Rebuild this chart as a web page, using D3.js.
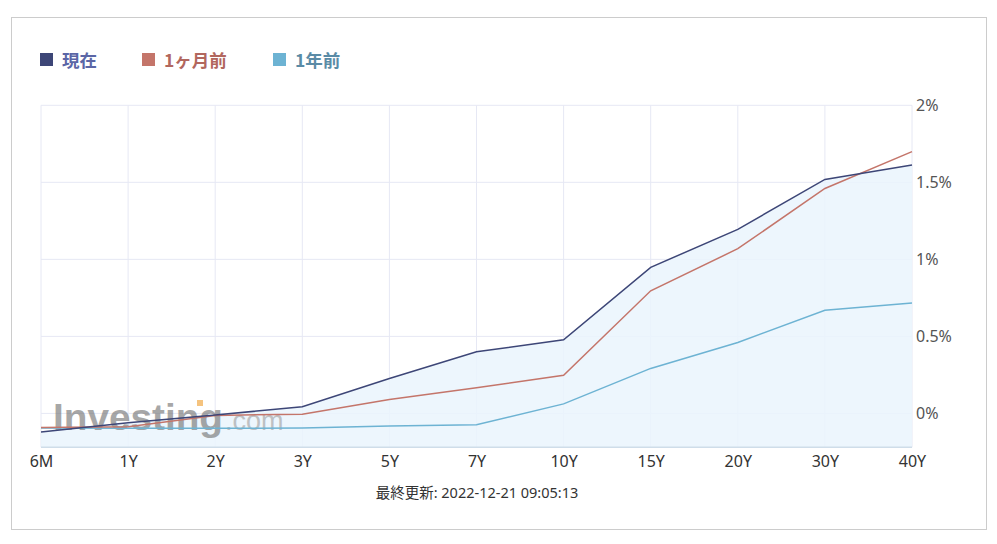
<!DOCTYPE html>
<html>
<head>
<meta charset="utf-8">
<script src="https://cdn.jsdelivr.net/npm/d3@7"></script>
<style>
  body { margin: 0; background: #fff; }
  text { font-family: "Noto Sans", "Noto Sans CJK JP", sans-serif; }
</style>
</head>
<body>
<svg id="chart" width="997" height="544"></svg>
<script>
// tenors on the x axis
var tenors = ["6M", "1Y", "2Y", "3Y", "5Y", "7Y", "10Y", "15Y", "20Y", "30Y", "40Y"];
// yields in %
var nowVals   = [-0.12, -0.06, -0.01, 0.043, 0.227, 0.40, 0.478, 0.948, 1.195, 1.519, 1.612];
var monthVals = [-0.091, -0.086, -0.013, -0.005, 0.091, 0.166, 0.247, 0.796, 1.069, 1.46, 1.699];
var yearVals  = [-0.095, -0.097, -0.097, -0.095, -0.082, -0.074, 0.062, 0.292, 0.46, 0.67, 0.716];
var yTicks = [0, 0.5, 1, 1.5, 2];
var seriesNames = ["現在", "1ヶ月前", "1年前"];
var footer = "最終更新: 2022-12-21 09:05:13";

var svg = d3.select("#chart");
var plotL = 41, plotR = 912, plotT = 105.3, plotB = 447.3;

var x = d3.scalePoint().domain(tenors).range([plotL, plotR]);
var y = d3.scaleLinear().domain([-0.22, 2]).range([plotB, plotT]);

// outer frame
svg.append("rect")
    .attr("x", 11.5).attr("y", 17.5).attr("width", 975).attr("height", 512)
    .attr("fill", "none").attr("stroke", "#cccccc");

// grid
var grid = svg.append("g");
grid.selectAll("line.v").data(tenors).enter().append("line")
    .attr("x1", function(d) { return x(d); }).attr("x2", function(d) { return x(d); })
    .attr("y1", plotT).attr("y2", plotB)
    .attr("stroke", "#e6e8f4").attr("stroke-width", 1);
grid.selectAll("line.h").data(yTicks).enter().append("line")
    .attr("x1", plotL).attr("x2", plotR)
    .attr("y1", function(d) { return y(d); }).attr("y2", function(d) { return y(d); })
    .attr("stroke", "#e6e8f4").attr("stroke-width", 1);

// area under current curve
var area = d3.area()
    .x(function(d, i) { return x(tenors[i]); })
    .y0(plotB)
    .y1(function(d) { return y(d); });
svg.append("path").datum(nowVals)
    .attr("d", area)
    .attr("fill", "#eaf4fd").attr("fill-opacity", 0.85);

// watermark
var wm = svg.append("g").attr("opacity", 0.62);
wm.append("text").attr("x", 53).attr("y", 430)
    .attr("textLength", 170).attr("lengthAdjust", "spacingAndGlyphs")
    .style("font-family", "'Liberation Sans', Arial, sans-serif")
    .style("font-weight", "bold").style("font-size", "37px")
    .attr("fill", "#727272").text("Investing");
wm.append("rect").attr("x", 197).attr("y", 400).attr("width", 6).attr("height", 6).attr("fill", "#f0a030");
wm.append("text").attr("x", 225).attr("y", 430)
    .style("font-family", "'Liberation Sans', Arial, sans-serif")
    .style("font-size", "27px")
    .attr("fill", "#a0a0a0").text(".com");

// bottom axis line
svg.append("line").attr("x1", plotL).attr("x2", plotR).attr("y1", plotB).attr("y2", plotB)
    .attr("stroke", "#cfdde9").attr("stroke-width", 1.5);

// lines
var line = d3.line()
    .x(function(d, i) { return x(tenors[i]); })
    .y(function(d) { return y(d); });
var colors = ["#3d4677", "#c4756a", "#6db3d3"];
[yearVals, monthVals, nowVals].forEach(function(vals, k) {
  svg.append("path").datum(vals)
      .attr("d", line)
      .attr("fill", "none")
      .attr("stroke", colors[2 - k])
      .attr("stroke-width", 1.5);
});

// x axis
var xAxis = svg.append("g").attr("transform", "translate(0," + plotB + ")")
    .call(d3.axisBottom(x).tickSize(0).tickPadding(8));
xAxis.select(".domain").remove();
xAxis.selectAll("text").style("font-size", "16px").attr("fill", "#333");

// y axis on the right
var yAxis = svg.append("g").attr("transform", "translate(" + plotR + ",0)")
    .call(d3.axisRight(y).tickValues(yTicks).tickSize(0).tickPadding(4)
      .tickFormat(function(d) { return d + "%"; }));
yAxis.select(".domain").remove();
yAxis.selectAll("text").style("font-size", "16px").attr("fill", "#555");

// legend
var legendX = [40, 142, 273];
var textColors = ["#5b66a6", "#b2675e", "#5a8ba6"];
var lg = svg.selectAll("g.legend").data(seriesNames).enter().append("g")
    .attr("transform", function(d, i) { return "translate(" + legendX[i] + ",53)"; });
lg.append("rect").attr("width", 13).attr("height", 13)
    .attr("fill", function(d, i) { return colors[i]; });
lg.append("text").attr("x", 22).attr("y", 14)
    .style("font-size", "17.5px").style("font-weight", "bold")
    .style("font-family", "'Noto Sans CJK JP', sans-serif")
    .attr("fill", function(d, i) { return textColors[i]; })
    .text(function(d) { return d; });

// footer
svg.append("text").attr("x", 477).attr("y", 498).attr("text-anchor", "middle")
    .style("font-size", "14.5px").attr("fill", "#333").text(footer);
</script>
</body>
</html>
